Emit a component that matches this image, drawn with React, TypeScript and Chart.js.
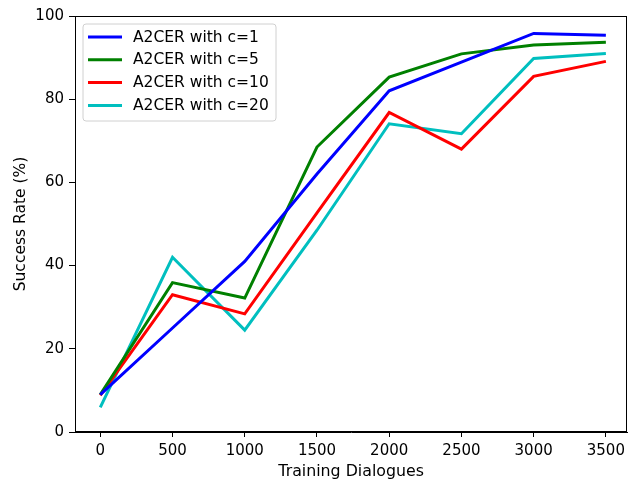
import React, { useEffect, useRef } from "react";
import { Chart, registerables } from "chart.js";

Chart.register(...registerables);

const trainingDialogues = [0, 500, 1000, 1500, 2000, 2500, 3000, 3500];
const c1Values = [9, 25, 41, 62, 82, 88.9, 95.8, 95.4];
const c5Values = [9, 35.9, 32.2, 68.5, 85.3, 90.9, 93, 93.7];
const c10Values = [8.8, 33, 28.4, 52.7, 76.8, 68, 85.5, 89.1];
const c20Values = [5.9, 42, 24.5, 48.5, 74.1, 71.7, 89.8, 91];
const seriesLabels = ["A2CER with c=1", "A2CER with c=5", "A2CER with c=10", "A2CER with c=20"];
const seriesColors = ["#0000ff", "#008000", "#ff0000", "#00bfbf"];
const xTicks = [0, 500, 1000, 1500, 2000, 2500, 3000, 3500];
const yTicks = [0, 20, 40, 60, 80, 100];

const FONT = "'DejaVu Sans', sans-serif";

const framePlugin = {
  id: "frameAndLegend",
  afterDatasetsDraw(chart: any) {
    const { ctx, chartArea } = chart;
    ctx.save();
    ctx.strokeStyle = "#000";
    ctx.lineWidth = 1;
    ctx.strokeRect(
      Math.round(chartArea.left) + 0.5,
      Math.round(chartArea.top) + 0.5,
      Math.round(chartArea.right - chartArea.left) - 1,
      Math.round(chartArea.bottom - chartArea.top) - 1
    );
    // legend
    const bx = chartArea.left + 8;
    const by = chartArea.top + 8;
    const bw = 193;
    const bh = 97;
    ctx.beginPath();
    const r = 3;
    ctx.moveTo(bx + r, by);
    ctx.lineTo(bx + bw - r, by);
    ctx.quadraticCurveTo(bx + bw, by, bx + bw, by + r);
    ctx.lineTo(bx + bw, by + bh - r);
    ctx.quadraticCurveTo(bx + bw, by + bh, bx + bw - r, by + bh);
    ctx.lineTo(bx + r, by + bh);
    ctx.quadraticCurveTo(bx, by + bh, bx, by + bh - r);
    ctx.lineTo(bx, by + r);
    ctx.quadraticCurveTo(bx, by, bx + r, by);
    ctx.closePath();
    ctx.fillStyle = "rgba(255,255,255,0.8)";
    ctx.fill();
    ctx.strokeStyle = "#d0d0d0";
    ctx.stroke();
    ctx.font = `15.5px ${FONT}`;
    ctx.textBaseline = "middle";
    ctx.textAlign = "left";
    seriesLabels.forEach((lab, i) => {
      const yy = by + 13 + i * 22.8;
      ctx.beginPath();
      ctx.strokeStyle = seriesColors[i];
      ctx.lineWidth = 3;
      ctx.moveTo(bx + 5, yy);
      ctx.lineTo(bx + 39, yy);
      ctx.stroke();
      ctx.fillStyle = "#000";
      ctx.fillText(lab, bx + 50, yy + 0.5);
    });
    ctx.restore();
  },
};

export default function App() {
  const ref = useRef<HTMLCanvasElement | null>(null);
  useEffect(() => {
    if (!ref.current) return;
    const allSeries = [c1Values, c5Values, c10Values, c20Values];
    const chart = new Chart(ref.current, {
      type: "line",
      data: {
        datasets: allSeries.map((vals, i) => ({
          label: seriesLabels[i],
          data: vals.map((v, j) => ({ x: trainingDialogues[j], y: v })),
          borderColor: seriesColors[i],
          backgroundColor: seriesColors[i],
          borderWidth: 3,
          pointRadius: 0,
          tension: 0,
          fill: false,
        })),
      },
      options: {
        animation: false,
        responsive: false,
        layout: { padding: { top: 16, right: 1, left: 0, bottom: 0 } },
        plugins: { legend: { display: false }, tooltip: { enabled: false } },
        scales: {
          x: {
            type: "linear",
            min: -175,
            max: 3648,
            afterFit: (s: any) => {
              s.height = 51;
            },
            afterBuildTicks: (s: any) => {
              s.ticks = xTicks.map((v) => ({ value: v }));
            },
            grid: { drawOnChartArea: false, drawTicks: true, tickLength: 5, color: "#000" },
            border: { display: true, color: "#000" },
            ticks: {
              color: "#000",
              font: { family: FONT, size: 15 },
              padding: 5,
              maxRotation: 0,
              callback: (v: any) => String(v),
            },
            title: {
              display: true,
              text: "Training Dialogues",
              color: "#000",
              font: { family: FONT, size: 15.8 },
              padding: { top: 0, bottom: 2 },
            },
          },
          y: {
            type: "linear",
            min: 0,
            max: 100,
            afterFit: (s: any) => {
              s.width = 75;
            },
            afterBuildTicks: (s: any) => {
              s.ticks = yTicks.map((v) => ({ value: v }));
            },
            grid: { drawOnChartArea: false, drawTicks: true, tickLength: 6, color: "#000" },
            border: { display: true, color: "#000" },
            ticks: {
              color: "#000",
              font: { family: FONT, size: 15 },
              padding: 5,
              callback: (v: any) => String(v),
            },
            title: {
              display: true,
              text: "Success Rate (%)",
              color: "#000",
              font: { family: FONT, size: 15.5 },
              padding: { top: 11.5, bottom: 0 },
            },
          },
        },
      },
      plugins: [framePlugin],
    });
    return () => chart.destroy();
  }, []);
  return (
    <div style={{ position: "fixed", left: 0, top: 0, width: 630, height: 483, background: "#fff" }}>
      <canvas ref={ref} width={630} height={483} style={{ display: "block" }} />
    </div>
  );
}
